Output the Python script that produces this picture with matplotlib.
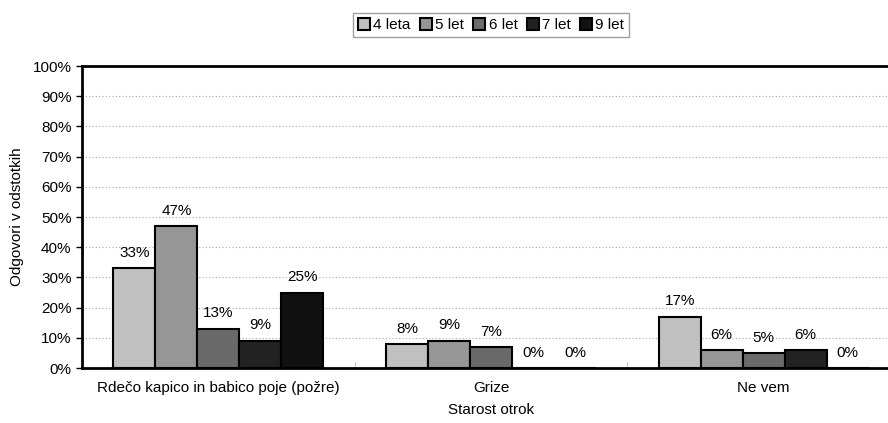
import matplotlib.pyplot as plt
import numpy as np

categories = ['Rdečo kapico in babico poje (požre)', 'Grize', 'Ne vem']
series = ['4 leta', '5 let', '6 let', '7 let', '9 let']
values = [
    [33, 8, 17],   # 4 leta
    [47, 9, 6],    # 5 let
    [13, 7, 5],    # 6 let
    [9, 0, 6],     # 7 let
    [25, 0, 0],    # 9 let
]
colors = ['#c0c0c0', '#969696', '#6a6a6a', '#222222', '#111111']

plt.rcParams['font.family'] = ['Liberation Sans', 'DejaVu Sans']
fs = 11

fig = plt.figure(figsize=(8.88, 4.23), dpi=100)
# plot area runs slightly past the right edge, as in the original
ax = fig.add_axes([82 / 888, 1 - 368 / 423, (900 - 82) / 888, (368 - 66) / 423])

x = np.arange(len(categories))
w = 0.154
for i, (name, vals) in enumerate(zip(series, values)):
    pos = x + (i - 2) * w
    bars = ax.bar(pos, vals, w, color=colors[i], edgecolor='black',
                  linewidth=1.5, label=name, zorder=3)
    for b, v in zip(bars, vals):
        ax.annotate(f'{v}%', (b.get_x() + b.get_width() / 2, v),
                    xytext=(0, 6), textcoords='offset points',
                    ha='center', va='bottom', fontsize=fs)

ax.set_xlim(-0.5, len(categories) - 0.5)
ax.set_ylim(0, 100)
ax.set_yticks(range(0, 101, 10))
ax.set_yticklabels([f'{t}%' for t in range(0, 101, 10)], fontsize=fs)
ax.set_xticks(x)
ax.set_xticklabels(categories, fontsize=fs)
ax.tick_params(axis='x', length=0, pad=9)
ax.tick_params(axis='y', length=4, width=1, direction='out')
ax.set_xticks(np.arange(0.5, len(categories) - 0.5, 1), minor=True)
ax.tick_params(axis='x', which='minor', length=4, direction='in', color='#bbbbbb')

ax.yaxis.grid(True, linestyle=(0, (1, 2)), color='#aaaaaa', linewidth=0.8, zorder=0)
for s in ax.spines.values():
    s.set_linewidth(2)
ax.spines['right'].set_visible(False)

ax.set_xlabel('Starost otrok', fontsize=fs, labelpad=6)
ax.set_ylabel('Odgovori v odstotkih', fontsize=fs, labelpad=6)

leg = fig.legend(loc='upper center', bbox_to_anchor=(491 / 888, 1 - 5 / 423),
                 ncol=5, fontsize=fs, frameon=True, fancybox=False,
                 handlelength=0.8, handleheight=0.8, handletextpad=0.2,
                 columnspacing=0.6, borderpad=0.35, edgecolor='#888888')
leg.get_frame().set_linewidth(1)

fig.savefig('out.png', dpi=100)
